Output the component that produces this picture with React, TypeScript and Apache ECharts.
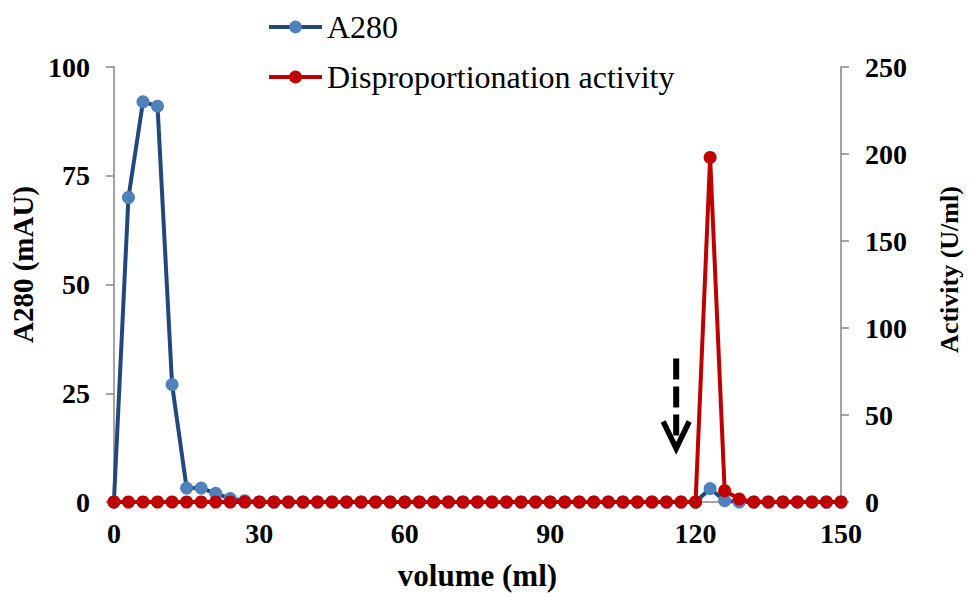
import React, { useEffect, useRef } from "react";
import * as echarts from "echarts";

const volumes = [
  0, 3, 6, 9, 12, 15, 18, 21, 24, 27, 30, 33, 36, 39, 42, 45, 48, 51, 54, 57,
  60, 63, 66, 69, 72, 75, 78, 81, 84, 87, 90, 93, 96, 99, 102, 105, 108, 111,
  114, 117, 120, 123, 126, 129, 132, 135, 138, 141, 144, 147, 150,
];

const a280 = [
  0, 70, 92, 91, 27, 3.2, 3.2, 2.0, 0.8, 0.3, 0, 0, 0, 0, 0, 0, 0, 0, 0, 0,
  0, 0, 0, 0, 0, 0, 0, 0, 0, 0, 0, 0, 0, 0, 0, 0, 0, 0,
  0, 0, 0, 3.1, 0.3, 0, 0, 0, 0, 0, 0, 0, 0,
];

const activity = [
  0, 0, 0, 0, 0, 0, 0, 0, 0, 0, 0, 0, 0, 0, 0, 0, 0, 0, 0, 0,
  0, 0, 0, 0, 0, 0, 0, 0, 0, 0, 0, 0, 0, 0, 0, 0, 0, 0,
  0, 0, 0, 198, 6.5, 1.7, 0, 0, 0, 0, 0, 0, 0,
];

const seriesNames = ["A280", "Disproportionation activity"];
const xTitle = "volume (ml)";
const yLeftTitle = "A280 (mAU)";
const yRightTitle = "Activity (U/ml)";

// arrow annotation (data coordinates on the left axis)
const arrowX = 116.0;
const arrowTopY = 33;
const arrowTipY = 12.3;

const FONT = "'Liberation Serif', 'Times New Roman', serif";
const AXIS_COLOR = "#868686";

export default function App() {
  const ref = useRef<HTMLDivElement>(null);

  useEffect(() => {
    if (!ref.current) return;
    const chart = echarts.init(ref.current, undefined, { renderer: "svg" });

    const axisLabel = {
      fontFamily: FONT,
      fontWeight: "bold" as const,
      fontSize: 28,
      color: "#000",
    };

    chart.setOption({
      animation: false,
      backgroundColor: "#fff",
      grid: { left: 112, width: 731, top: 67, height: 436, containLabel: false },
      legend: {
        orient: "vertical",
        left: 267,
        top: 11,
        padding: 0,
        itemWidth: 53,
        itemHeight: 16,
        itemGap: 18,
        lineStyle: { width: 4 },
        textStyle: { fontFamily: FONT, fontSize: 32, color: "#000" },
        data: seriesNames,
      },
      xAxis: {
        type: "value",
        min: 0,
        max: 150,
        interval: 30,
        name: xTitle,
        nameLocation: "middle",
        nameGap: 58,
        nameTextStyle: { fontFamily: FONT, fontWeight: "bold", fontSize: 31, color: "#000" },
        axisLine: { show: true, lineStyle: { color: AXIS_COLOR, width: 1.5 } },
        axisTick: { show: true, length: 7, lineStyle: { color: AXIS_COLOR, width: 1.5 } },
        axisLabel: { ...axisLabel, margin: 17 },
        splitLine: { show: false },
      },
      yAxis: [
        {
          type: "value",
          position: "left",
          min: 0,
          max: 100,
          interval: 25,
          name: yLeftTitle,
          nameLocation: "middle",
          nameGap: 70,
          nameTextStyle: {
            fontFamily: FONT,
            fontWeight: "bold",
            fontSize: 29,
            color: "#000",
            padding: [0, 0, 0, 40],
          },
          axisLine: { show: true, lineStyle: { color: AXIS_COLOR, width: 1.5 } },
          axisTick: { show: true, length: 8, lineStyle: { color: AXIS_COLOR, width: 1.5 } },
          axisLabel: { ...axisLabel, margin: 24 },
          splitLine: { show: false },
        },
        {
          type: "value",
          position: "right",
          min: 0,
          max: 250,
          interval: 50,
          name: yRightTitle,
          nameLocation: "middle",
          nameGap: 95,
          nameTextStyle: {
            fontFamily: FONT,
            fontWeight: "bold",
            fontSize: 26,
            color: "#000",
            padding: [0, 0, 0, 30],
          },
          axisLine: { show: true, lineStyle: { color: AXIS_COLOR, width: 1.5 } },
          axisTick: { show: true, length: 8, lineStyle: { color: AXIS_COLOR, width: 1.5 } },
          axisLabel: { ...axisLabel, margin: 24 },
          splitLine: { show: false },
        },
      ],
      series: [
        {
          name: seriesNames[0],
          type: "line",
          yAxisIndex: 0,
          data: volumes.map((v, i) => [v, a280[i]]),
          symbol: "circle",
          symbolSize: 13,
          lineStyle: { color: "#1F497D", width: 4 },
          itemStyle: { color: "#4F81BD" },
          z: 2,
        },
        {
          name: seriesNames[1],
          type: "line",
          yAxisIndex: 1,
          data: volumes.map((v, i) => [v, activity[i]]),
          symbol: "circle",
          symbolSize: 13,
          lineStyle: { color: "#C00000", width: 4 },
          itemStyle: { color: "#C00000" },
          z: 3,
        },
      ],
    });

    const top = chart.convertToPixel({ xAxisIndex: 0, yAxisIndex: 0 }, [arrowX, arrowTopY]) as number[];
    const tip = chart.convertToPixel({ xAxisIndex: 0, yAxisIndex: 0 }, [arrowX, arrowTipY]) as number[];
    chart.setOption({
      graphic: [
        {
          type: "line",
          shape: { x1: top[0], y1: top[1], x2: tip[0], y2: tip[1] - 4 },
          style: { stroke: "#000", lineWidth: 6, lineDash: [21, 7] },
          z: 10,
        },
        {
          type: "polyline",
          shape: {
            points: [
              [tip[0] - 13, tip[1] - 27],
              [tip[0], tip[1]],
              [tip[0] + 13, tip[1] - 27],
            ],
          },
          style: { stroke: "#000", lineWidth: 5.5, fill: "none" },
          z: 10,
        },
      ],
    });

    return () => chart.dispose();
  }, []);

  return (
    <div
      ref={ref}
      style={{ position: "absolute", left: 0, top: 0, width: 970, height: 596 }}
    />
  );
}
